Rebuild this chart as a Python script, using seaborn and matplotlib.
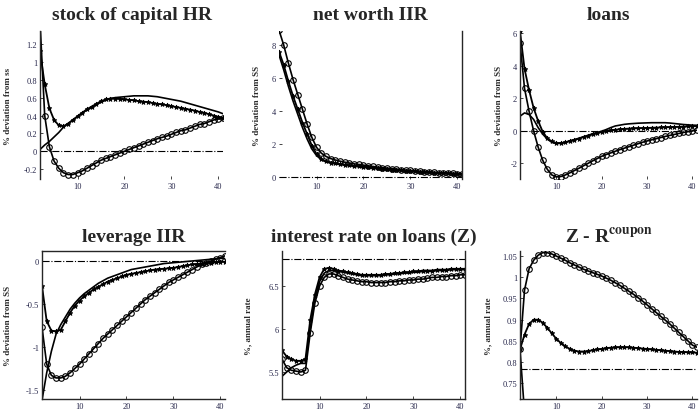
import numpy as np
import matplotlib
matplotlib.use("Agg")
import matplotlib.pyplot as plt
from matplotlib.ticker import FuncFormatter
import seaborn as sns

# periods shown on the x axis
T = np.arange(2, 42)

# stock of capital HR
cap_star = [1.12, 0.75, 0.48, 0.35, 0.29, 0.28, 0.31, 0.35, 0.39, 0.43,
            0.47, 0.5, 0.53, 0.56, 0.58, 0.59, 0.59, 0.585, 0.58, 0.575,
            0.57, 0.56, 0.555, 0.55, 0.54, 0.53, 0.525, 0.515, 0.505, 0.495,
            0.485, 0.475, 0.465, 0.455, 0.44, 0.43, 0.415, 0.4, 0.385, 0.37]
cap_circ = [1.45, 0.4, 0.05, -0.11, -0.19, -0.24, -0.26, -0.26, -0.24, -0.22,
            -0.19, -0.16, -0.13, -0.1, -0.08, -0.06, -0.04, -0.02, 0.0, 0.02,
            0.04, 0.06, 0.08, 0.1, 0.12, 0.14, 0.155, 0.17, 0.19, 0.21,
            0.23, 0.24, 0.26, 0.28, 0.3, 0.31, 0.33, 0.35, 0.36, 0.37]
cap_plain = [0.02, 0.07, 0.11, 0.16, 0.21, 0.27, 0.31, 0.35, 0.39, 0.43,
             0.46, 0.49, 0.52, 0.55, 0.57, 0.59, 0.6, 0.605, 0.61, 0.615,
             0.62, 0.62, 0.62, 0.62, 0.615, 0.61, 0.6, 0.59, 0.58, 0.57,
             0.56, 0.545, 0.53, 0.515, 0.5, 0.485, 0.47, 0.455, 0.44, 0.42]

# net worth IIR
nw_circ = [8.9, 8.0, 6.9, 5.9, 5.0, 4.1, 3.2, 2.4, 1.8, 1.45,
           1.25, 1.12, 1.03, 0.96, 0.9, 0.85, 0.8, 0.76, 0.72, 0.68,
           0.64, 0.6, 0.57, 0.54, 0.51, 0.48, 0.45, 0.42, 0.4, 0.37,
           0.35, 0.33, 0.31, 0.29, 0.27, 0.25, 0.23, 0.22, 0.2, 0.19]
nw_star = [7.6, 6.8, 5.8, 4.9, 4.1, 3.3, 2.6, 1.9, 1.4, 1.1,
           0.95, 0.88, 0.83, 0.79, 0.75, 0.71, 0.68, 0.65, 0.62, 0.59,
           0.56, 0.53, 0.5, 0.47, 0.44, 0.42, 0.4, 0.38, 0.36, 0.34,
           0.32, 0.3, 0.28, 0.26, 0.25, 0.24, 0.22, 0.21, 0.2, 0.19]
nw_plain = [7.4, 6.5, 5.5, 4.6, 3.8, 3.0, 2.3, 1.7, 1.3, 1.05,
            0.92, 0.85, 0.8, 0.76, 0.72, 0.69, 0.66, 0.63, 0.6, 0.57,
            0.54, 0.51, 0.48, 0.45, 0.43, 0.41, 0.39, 0.37, 0.35, 0.33,
            0.31, 0.29, 0.27, 0.26, 0.25, 0.23, 0.22, 0.21, 0.2, 0.19]

# loans
ln_star = [6.1, 3.8, 2.5, 1.4, 0.6, -0.05, -0.45, -0.65, -0.75, -0.75,
           -0.7, -0.62, -0.55, -0.47, -0.38, -0.3, -0.22, -0.14, -0.07, 0.0,
           0.04, 0.07, 0.1, 0.12, 0.14, 0.15, 0.16, 0.17, 0.18, 0.19,
           0.2, 0.21, 0.22, 0.23, 0.24, 0.25, 0.26, 0.27, 0.28, 0.3]
ln_circ = [5.4, 2.6, 1.2, 0.0, -1.0, -1.8, -2.35, -2.7, -2.82, -2.8,
           -2.7, -2.57, -2.43, -2.29, -2.14, -1.99, -1.84, -1.7, -1.56, -1.45,
           -1.35, -1.25, -1.15, -1.06, -0.97, -0.88, -0.79, -0.7, -0.62, -0.55,
           -0.48, -0.41, -0.34, -0.28, -0.22, -0.16, -0.1, -0.05, 0.0, 0.04]
ln_plain = [0.9, 1.1, 1.0, 0.7, 0.2, -0.2, -0.5, -0.7, -0.78, -0.76,
            -0.7, -0.62, -0.54, -0.45, -0.36, -0.27, -0.18, -0.1, -0.02, 0.08,
            0.2, 0.3, 0.35, 0.4, 0.43, 0.45, 0.47, 0.48, 0.49, 0.5,
            0.5, 0.5, 0.5, 0.48, 0.45, 0.42, 0.39, 0.37, 0.35, 0.34]

# leverage IIR
lev_star = [-0.29, -0.7, -0.81, -0.82, -0.8, -0.7, -0.6, -0.52, -0.46, -0.41,
            -0.37, -0.33, -0.3, -0.27, -0.24, -0.22, -0.2, -0.18, -0.16, -0.15,
            -0.14, -0.13, -0.12, -0.11, -0.1, -0.095, -0.09, -0.085, -0.08, -0.07,
            -0.06, -0.05, -0.04, -0.035, -0.03, -0.025, -0.02, -0.015, -0.01, -0.01]
lev_circ = [-0.77, -1.2, -1.33, -1.36, -1.36, -1.34, -1.3, -1.25, -1.2, -1.14,
            -1.08, -1.02, -0.96, -0.9, -0.85, -0.8, -0.75, -0.7, -0.65, -0.6,
            -0.55, -0.5, -0.45, -0.41, -0.37, -0.33, -0.29, -0.25, -0.22, -0.19,
            -0.16, -0.13, -0.1, -0.07, -0.04, -0.02, 0.0, 0.02, 0.04, 0.06]
lev_plain = [-1.62, -1.3, -1.05, -0.85, -0.74, -0.65, -0.56, -0.49, -0.43, -0.38,
             -0.34, -0.3, -0.26, -0.23, -0.2, -0.18, -0.16, -0.14, -0.12, -0.1,
             -0.09, -0.08, -0.07, -0.06, -0.05, -0.04, -0.03, -0.025, -0.02, -0.015,
             -0.01, -0.005, 0.0, 0.005, 0.01, 0.015, 0.02, 0.025, 0.03, 0.03]

# interest rate on loans (Z)
z_star = [5.75, 5.68, 5.65, 5.63, 5.63, 5.65, 6.1, 6.4, 6.6, 6.7,
          6.71, 6.7, 6.68, 6.67, 6.66, 6.65, 6.64, 6.63, 6.63, 6.63,
          6.63, 6.63, 6.64, 6.64, 6.65, 6.65, 6.66, 6.66, 6.67, 6.67,
          6.68, 6.68, 6.68, 6.69, 6.69, 6.69, 6.7, 6.7, 6.7, 6.7]
z_circ = [5.65, 5.55, 5.52, 5.51, 5.5, 5.52, 5.95, 6.3, 6.5, 6.6,
          6.64, 6.64, 6.62, 6.6, 6.58, 6.57, 6.56, 6.55, 6.55, 6.54,
          6.54, 6.54, 6.54, 6.55, 6.55, 6.56, 6.56, 6.57, 6.57, 6.58,
          6.58, 6.59, 6.6, 6.6, 6.61, 6.61, 6.62, 6.62, 6.63, 6.63]
z_plain = [5.45, 5.5, 5.55, 5.58, 5.6, 5.6, 6.0, 6.35, 6.55, 6.65,
           6.68, 6.68, 6.67, 6.66, 6.65, 6.64, 6.63, 6.62, 6.62, 6.62,
           6.62, 6.62, 6.63, 6.63, 6.64, 6.64, 6.65, 6.65, 6.66, 6.66,
           6.67, 6.67, 6.67, 6.68, 6.68, 6.68, 6.69, 6.69, 6.69, 6.69]

# Z - R coupon
zr_circ = [0.83, 0.97, 1.02, 1.04, 1.052, 1.058, 1.058, 1.055, 1.05, 1.045,
           1.04, 1.034, 1.029, 1.024, 1.019, 1.015, 1.011, 1.007, 1.003, 0.998,
           0.993, 0.987, 0.981, 0.974, 0.967, 0.96, 0.952, 0.944, 0.935, 0.926,
           0.917, 0.908, 0.899, 0.89, 0.88, 0.87, 0.86, 0.85, 0.84, 0.835]
zr_star = [0.83, 0.865, 0.89, 0.9, 0.9, 0.893, 0.881, 0.868, 0.855, 0.845,
           0.837, 0.831, 0.827, 0.825, 0.825, 0.826, 0.828, 0.83, 0.831, 0.833,
           0.834, 0.835, 0.835, 0.835, 0.835, 0.834, 0.833, 0.832, 0.831, 0.83,
           0.829, 0.828, 0.827, 0.826, 0.825, 0.824, 0.824, 0.823, 0.823, 0.822]
zr_plain = [0.83, 0.68]

titles = ["stock of capital HR", "net worth IIR", "loans",
          "leverage IIR", "interest rate on loans (Z)", r"Z - R$^{\mathbf{coupon}}$"]
ylabels = ["% deviation from ss", "% deviation from SS", "% deviation from SS",
           "% deviation from SS", "%, annual rate", "%, annual rate"]
steady = [0, 0, 0, 0, 6.81, 0.784]
yticks = [[-0.2, 0, 0.2, 0.4, 0.6, 0.8, 1, 1.2], [0, 2, 4, 6, 8], [-2, 0, 2, 4, 6],
          [-1.5, -1, -0.5, 0], [5.5, 6, 6.5], [0.75, 0.8, 0.85, 0.9, 0.95, 1, 1.05]]

sns.set_style("ticks")
plt.rcParams["axes.unicode_minus"] = False
plt.rcParams["font.family"] = ["Liberation Serif", "DejaVu Serif"]
plt.rcParams["mathtext.fontset"] = "stix"

W, H = 699, 410
fig = plt.figure(figsize=(W / 100, H / 100), dpi=100)

# panel boxes in pixels: left, top, width, height
boxes = [(40, 32, 183, 148), (279, 32, 183, 148), (520, 32, 177, 148),
         (42, 252, 183, 148), (282, 252, 183, 148), (520, 252, 177, 148)]
ylims = [(-0.31, 1.345), (-0.12, 8.85), (-2.95, 6.12),
         (-1.605, 0.116), (5.186, 6.907), (0.713, 1.062)]
ylab_x = [12, 261, 503, 12, 252, 492]
spines = [["left"], ["right"], ["left"], ["left", "top", "bottom"],
          ["left", "bottom", "right"], ["left", "bottom"]]
title_pad = [9, 9, 9, 7, 7, 7]

panels = [(cap_star, cap_circ, cap_plain), (nw_star, nw_circ, nw_plain),
          (ln_star, ln_circ, ln_plain), (lev_star, lev_circ, lev_plain),
          (z_star, z_circ, z_plain), (zr_star, zr_circ, zr_plain)]

fmt = FuncFormatter(lambda v, p: "%g" % v)

for i, (star, circ, plain) in enumerate(panels):
    l, t, w, h = boxes[i]
    ax = fig.add_axes([l / W, 1 - (t + h) / H, w / W, h / H])
    ax.axhline(steady[i], color="black", lw=0.8, ls="-.")
    sns.lineplot(x=T[:len(plain)], y=plain, ax=ax, color="black", lw=1.2)
    sns.lineplot(x=T, y=star, ax=ax, color="black", lw=1.3,
                 marker="*", markersize=3.5, mew=0.6, mec="black")
    sns.lineplot(x=T, y=circ, ax=ax, color="black", lw=1.2,
                 marker="o", markersize=4, mfc="none", mec="black", mew=0.8)
    ax.set_xlim(2, 41)
    ax.set_ylim(*ylims[i])
    ax.set_xticks([10, 20, 30, 40])
    ax.set_yticks(yticks[i])
    ax.yaxis.set_major_formatter(fmt)
    ax.tick_params(direction="in", length=2, width=0.6, labelsize=6,
                   labelcolor="#26264a", pad=2)
    for s in ["left", "right", "top", "bottom"]:
        ax.spines[s].set_visible(s in spines[i])
        ax.spines[s].set_linewidth(1.0)
    ax.set_title(titles[i], fontsize=14, fontweight="bold", pad=title_pad[i])
    ax.set_ylabel(ylabels[i], fontsize=6.5, fontweight="bold", color="#2a2a2a")
    ax.yaxis.set_label_coords((ylab_x[i] - l) / w, 0.5)
    ax.set_xlabel("")

fig.savefig("out.png", dpi=100)
